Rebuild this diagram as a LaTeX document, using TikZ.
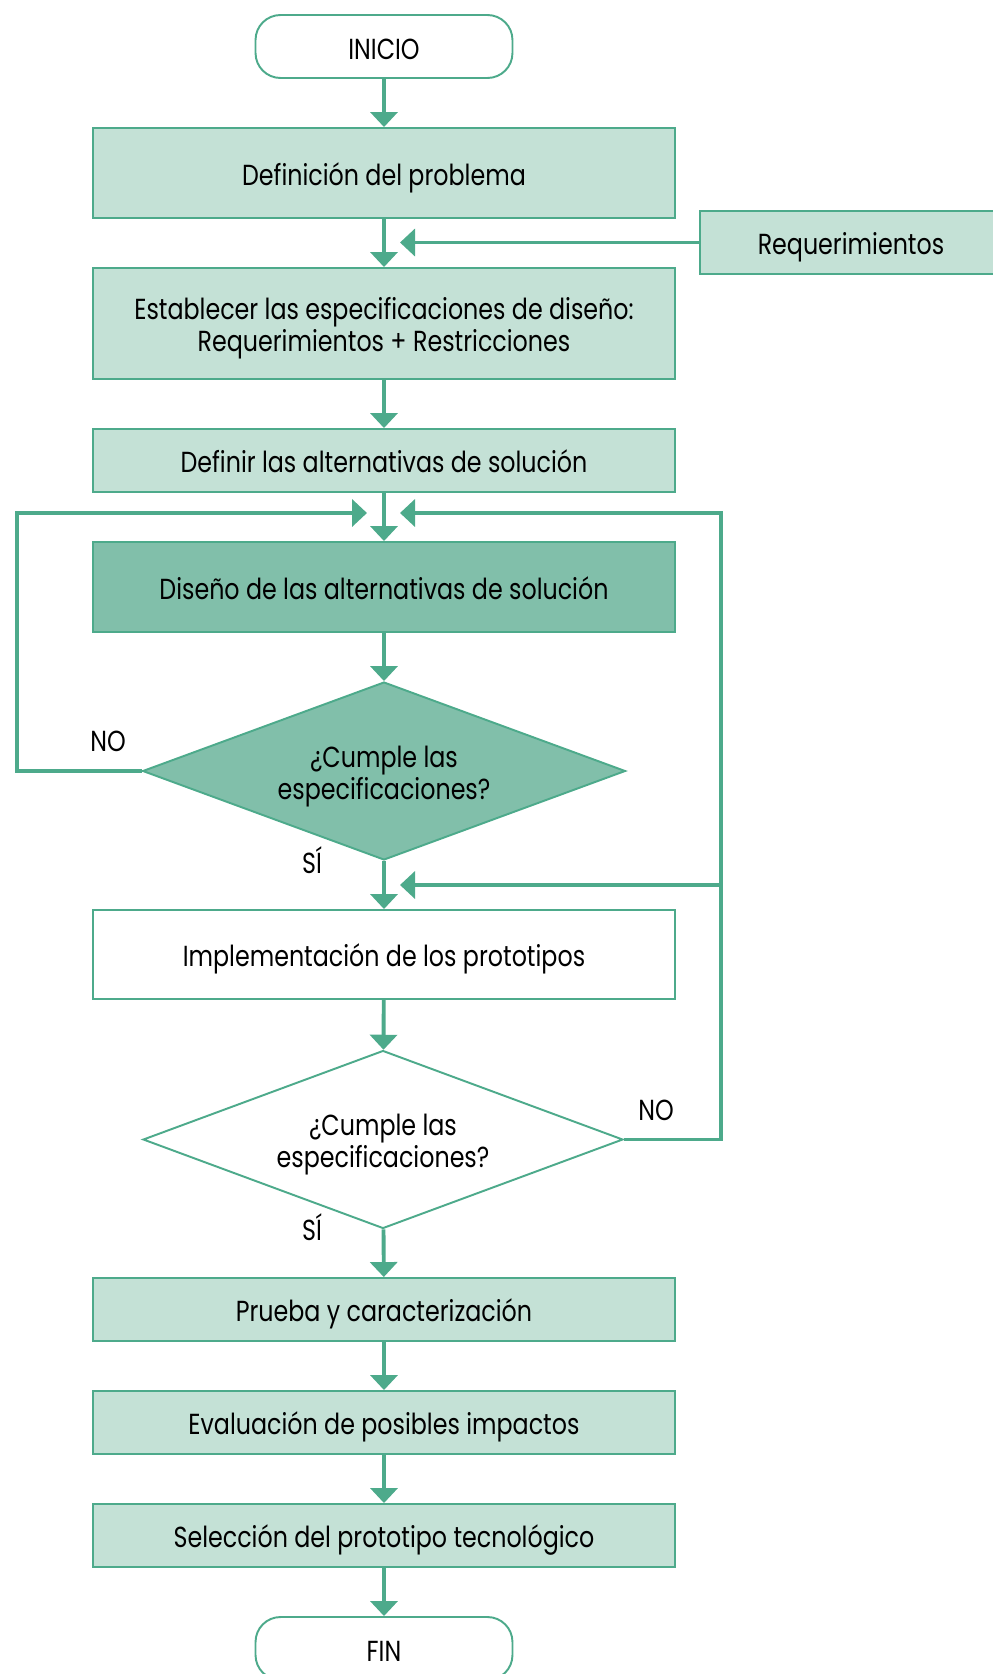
\documentclass[tikz,border=0pt]{standalone}
\usepackage{fontspec}
\setmainfont[FakeStretch=0.82]{Poppins}
\usepackage{tikz}
\usetikzlibrary{arrows.meta,shapes.geometric}
\definecolor{verde}{HTML}{4DAA8B}
\definecolor{verdeclaro}{HTML}{C4E1D6}
\definecolor{verdeoscuro}{HTML}{81BFAA}

\begin{document}
\begin{tikzpicture}[x=0.02cm,y=-0.02cm,
		font=\fontsize{16.5}{18.3}\selectfont,
		>={Triangle[width=0.54cm,length=0.3cm]},
		caja/.style={draw=verde,line width=1.1pt,fill=verdeclaro,minimum width=11.64cm,align=center,inner sep=0pt,text height=1.7em,text depth=0.3em},
		doble/.style={text height=3.65em,text depth=},
		extremo/.style={draw=verde,line width=1.1pt,rounded corners=0.5cm,minimum width=5.14cm,minimum height=1.26cm,text height=1.75em,text depth=0.3em},
		rombo/.style={diamond,draw=verde,line width=1.1pt,aspect=2.7,minimum width=9.66cm,minimum height=3.56cm,align=center,inner sep=0pt,text height=3.65em},
		flecha/.style={->,draw=verde,line width=2.2pt},
		linea/.style={draw=verde,line width=2.2pt}]
		\useasboundingbox (0,0) rectangle (993,1674);
		% bloques
		\node[extremo] (inicio) at (384,46.5) {INICIO};
		\node[caja,minimum height=1.8cm] (defin) at (384,173) {Definición del problema};
		\node[caja,minimum width=6.04cm,minimum height=1.26cm] (req) at (851,242.5) {Requerimientos};
		\node[caja,doble,minimum height=2.22cm] (espec) at (384,323.5) {Establecer las especificaciones de diseño:\\Requerimientos + Restricciones};
		\node[caja,minimum height=1.26cm] (altern) at (384,460.5) {Definir las alternativas de solución};
		\node[caja,fill=verdeoscuro,minimum height=1.8cm] (diseno) at (384,587) {Diseño de las alternativas de solución};
		\node[rombo,fill=verdeoscuro] (cumple1) at (384,771) {¿Cumple las\\especificaciones?};
		\node[caja,fill=white,minimum height=1.78cm] (impl) at (384,954.5) {Implementación de los prototipos};
		\node[rombo,fill=white,minimum width=9.6cm] (cumple2) at (383,1139.5) {¿Cumple las\\especificaciones?};
		\node[caja,minimum height=1.26cm] (prueba) at (384,1309.5) {Prueba y caracterización};
		\node[caja,minimum height=1.26cm] (evalua) at (384,1422.5) {Evaluación de posibles impactos};
		\node[caja,minimum height=1.26cm] (selec) at (384,1535.5) {Selección del prototipo tecnológico};
		\node[extremo] (fin) at (384,1648.5) {FIN};
		% etiquetas
		\node (no1) at (108,741) {NO};
		\node (si1) at (312,860) {SÍ};
		\node (no2) at (656,1110) {NO};
		\node (si2) at (312,1227) {SÍ};
		% puntos de los lazos
		\coordinate (reqfin) at (400,242.5);
		\coordinate (izq) at (17,513);
		\coordinate (izqfin) at (367,513);
		\coordinate (der) at (721,513);
		\coordinate (derfin) at (400,513);
		\coordinate (dermed) at (721,885);
		\coordinate (medfin) at (400,885);
		% flechas
		\draw[flecha] (inicio) -- (defin);
		\draw[flecha] (defin) -- (espec);
		\draw[flecha] (req) -- (reqfin);
		\draw[flecha] (espec) -- (altern);
		\draw[flecha] (altern) -- (diseno);
		\draw[flecha] (diseno) -- (cumple1);
		\draw[flecha] (cumple1) -- (impl);
		\draw[flecha] (cumple1.west) -| (izq) -- (izqfin);
		\draw[flecha] (impl) -- (cumple2);
		\draw[flecha] (cumple2.east) -| (der) -- (derfin);
		\draw[flecha] (dermed) -- (medfin);
		\draw[flecha] (cumple2) -- (prueba);
		\draw[flecha] (prueba) -- (evalua);
		\draw[flecha] (evalua) -- (selec);
		\draw[flecha] (selec) -- (fin);
	\end{tikzpicture}
\end{document}
